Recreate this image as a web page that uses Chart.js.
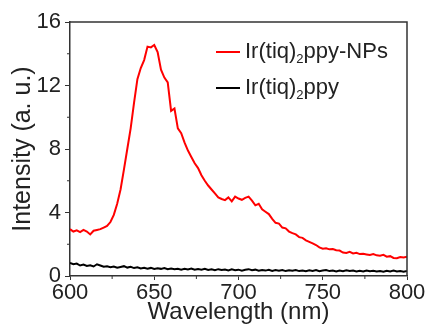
<!DOCTYPE html>
<html>
<head>
<meta charset="utf-8">
<script src="https://cdn.jsdelivr.net/npm/chart.js@4.4.0/dist/chart.umd.min.js"></script>
<style>
  body { margin: 0; background: #fff; }
  #wrap { width: 426px; height: 327px; position: relative; }
</style>
</head>
<body>
<div id="wrap"><canvas id="pl"></canvas></div>
<script>
// wavelength (nm)
var wavelength = [600,602,604,606,608,610,612,614,616,618,620,622,624,626,628,630,632,634,636,638,
  640,642,644,646,648,650,652,654,656,658,660,662,664,666,668,670,672,674,676,678,
  680,682,684,686,688,690,692,694,696,698,700,702,704,706,708,710,712,714,716,718,
  720,722,724,726,728,730,732,734,736,738,740,742,744,746,748,750,752,754,756,758,
  760,762,764,766,768,770,772,774,776,778,780,782,784,786,788,790,792,794,796,798,800];

// Ir(tiq)2ppy-NPs
var npsIntensity = [2.95,2.80,2.88,2.76,2.90,2.80,2.62,2.85,2.90,2.95,3.05,3.15,3.40,3.85,4.55,5.45,6.70,8.00,9.30,10.90,
  12.40,13.10,13.60,14.45,14.40,14.55,14.10,13.00,12.50,12.20,10.40,10.55,9.30,9.00,8.40,7.90,7.50,7.10,6.80,6.35,
  6.00,5.70,5.45,5.20,4.95,4.85,4.78,4.95,4.70,5.00,4.88,4.80,4.92,5.00,4.75,4.45,4.55,4.20,4.05,3.90,
  3.60,3.35,3.30,3.05,3.00,2.80,2.70,2.62,2.45,2.40,2.25,2.15,2.05,1.95,1.80,1.72,1.75,1.68,1.70,1.62,
  1.60,1.48,1.45,1.52,1.42,1.46,1.38,1.40,1.36,1.32,1.38,1.30,1.28,1.33,1.22,1.25,1.14,1.12,1.20,1.16,1.21];

// Ir(tiq)2ppy
var complexIntensity = [0.82,0.74,0.78,0.66,0.72,0.63,0.68,0.60,0.74,0.66,0.58,0.61,0.55,0.60,0.52,0.57,0.62,0.53,0.58,0.50,
  0.55,0.47,0.52,0.46,0.51,0.44,0.49,0.45,0.50,0.43,0.47,0.42,0.46,0.40,0.45,0.41,0.47,0.39,0.44,0.40,
  0.45,0.38,0.42,0.36,0.43,0.38,0.41,0.35,0.42,0.37,0.40,0.34,0.39,0.43,0.36,0.40,0.33,0.38,0.34,0.39,
  0.32,0.37,0.33,0.38,0.31,0.36,0.33,0.38,0.31,0.35,0.30,0.36,0.32,0.37,0.30,0.34,0.38,0.31,0.35,0.29,
  0.34,0.30,0.36,0.31,0.34,0.28,0.33,0.29,0.35,0.30,0.33,0.28,0.32,0.27,0.33,0.29,0.34,0.28,0.32,0.27,0.31];

var xTicks = [600, 650, 700, 750, 800];
var xMinor = [625, 675, 725, 775];
var yTicks = [0, 4, 8, 12, 16];
var yMinor = [2, 6, 10, 14];

var seriesNames = ["Ir(tiq)", "ppy-NPs", "ppy"]; // pieces around the subscript 2
var seriesColors = ["#ff0000", "#000000"];

function pts(ys) {
  var out = [];
  for (var i = 0; i < wavelength.length; i++) out.push({ x: wavelength[i], y: ys[i] });
  return out;
}

var axisColor = "#333";

// frame on top/right, minor ticks, legend with subscript
var extras = {
  id: "extras",
  afterDraw: function(chart) {
    var c = chart.ctx, a = chart.chartArea;
    var xs = chart.scales.x, ys = chart.scales.y;
    c.save();
    c.strokeStyle = axisColor;
    c.lineWidth = 1.5;
    c.beginPath();
    c.moveTo(a.left, a.top); c.lineTo(a.right, a.top); c.lineTo(a.right, a.bottom);
    c.stroke();
    c.lineWidth = 1;
    c.beginPath();
    xMinor.forEach(function(v) {
      var px = xs.getPixelForValue(v);
      c.moveTo(px, a.bottom); c.lineTo(px, a.bottom + 3);
    });
    yMinor.forEach(function(v) {
      var py = ys.getPixelForValue(v);
      c.moveTo(a.left, py); c.lineTo(a.left - 3, py);
    });
    c.stroke();

    // legend
    var lx = a.left + 146, ly = [52, 88];
    var labels = [[seriesNames[0], "2", seriesNames[1]], [seriesNames[0], "2", seriesNames[2]]];
    c.textBaseline = "alphabetic";
    c.fillStyle = "#222";
    for (var i = 0; i < 2; i++) {
      c.strokeStyle = seriesColors[i];
      c.lineWidth = 2;
      c.beginPath();
      c.moveTo(lx, ly[i]); c.lineTo(lx + 24, ly[i]);
      c.stroke();
      var tx = lx + 29, base = ly[i] + 6;
      c.font = "22px 'Liberation Sans', Arial, sans-serif";
      c.fillText(labels[i][0], tx, base);
      tx += c.measureText(labels[i][0]).width;
      c.font = "13px 'Liberation Sans', Arial, sans-serif";
      c.fillText(labels[i][1], tx, base + 5);
      tx += c.measureText(labels[i][1]).width;
      c.font = "22px 'Liberation Sans', Arial, sans-serif";
      c.fillText(labels[i][2], tx, base);
    }
    c.restore();
  }
};

var ctx = document.getElementById("pl").getContext("2d");
var myChart = new Chart(ctx, {
  type: "line",
  data: {
    datasets: [{
      label: "Ir(tiq)2ppy-NPs",
      data: pts(npsIntensity),
      borderColor: seriesColors[0],
      borderWidth: 2,
      pointRadius: 0,
      tension: 0
    }, {
      label: "Ir(tiq)2ppy",
      data: pts(complexIntensity),
      borderColor: seriesColors[1],
      borderWidth: 2,
      pointRadius: 0,
      tension: 0
    }]
  },
  plugins: [extras],
  options: {
    responsive: true,
    maintainAspectRatio: false,
    animation: false,
    layout: { padding: { top: 22, right: 19, left: 0, bottom: 0 } },
    plugins: { legend: { display: false }, tooltip: { enabled: false } },
    scales: {
      x: {
        type: "linear",
        min: 600, max: 800,
        afterFit: function(s) { s.height = 51; },
        afterBuildTicks: function(s) { s.ticks = xTicks.map(function(v) { return { value: v }; }); },
        grid: { drawOnChartArea: false, tickLength: 4, color: axisColor, tickWidth: 1 },
        border: { color: axisColor, width: 1.5 },
        ticks: { color: "#222", padding: 0, maxRotation: 0, font: { size: 22, family: "'Liberation Sans', Arial" } },
        title: { display: true, text: "Wavelength (nm)", color: "#222", padding: { top: 0, bottom: 0 },
                 font: { size: 24, family: "'Liberation Sans', Arial", lineHeight: 1.2 } }
      },
      y: {
        min: 0, max: 16,
        afterFit: function(s) { s.width = 70; },
        afterBuildTicks: function(s) { s.ticks = yTicks.map(function(v) { return { value: v }; }); },
        grid: { drawOnChartArea: false, tickLength: 5, color: axisColor, tickWidth: 1 },
        border: { color: axisColor, width: 1.5 },
        ticks: { color: "#222", padding: 4, font: { size: 22, family: "'Liberation Sans', Arial" } },
        title: { display: true, text: "Intensity (a. u.)", color: "#222", padding: { top: 8, bottom: 0 },
                 font: { size: 25, family: "'Liberation Sans', Arial", lineHeight: 1.2 } }
      }
    }
  }
});
</script>
</body>
</html>
